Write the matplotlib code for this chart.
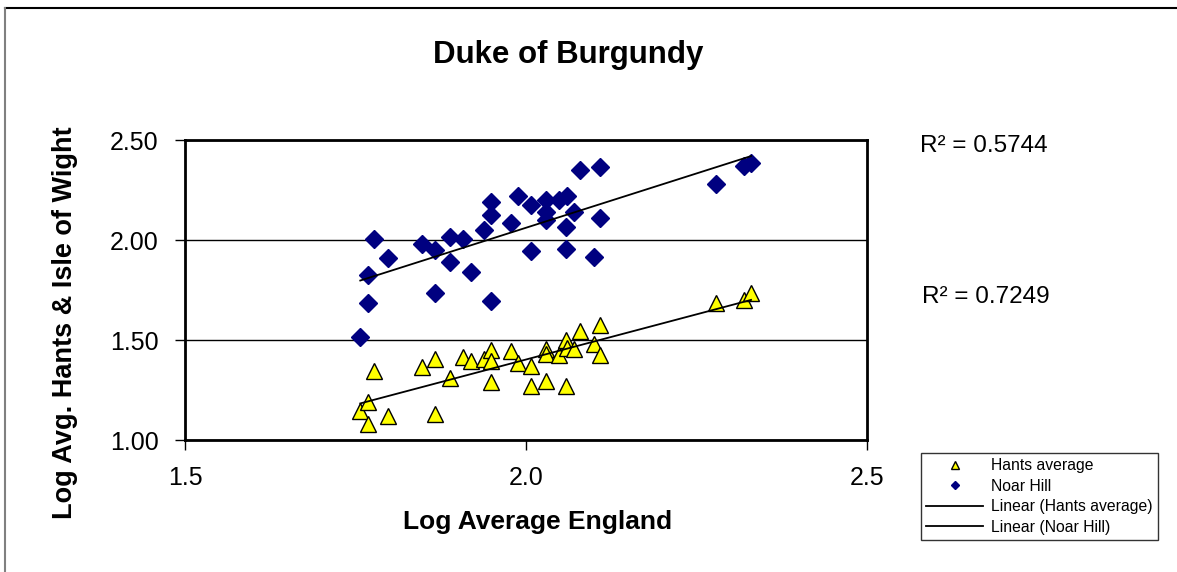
# Duke of Burgundy: log regional counts against log England average
import numpy as np
import matplotlib
matplotlib.use('Agg')
import matplotlib.pyplot as plt
from matplotlib.lines import Line2D

plt.rcParams['font.family'] = ['Liberation Sans', 'DejaVu Sans']

# Noar Hill series (x = log average England, y = log count)
noar_x = [1.757, 1.768, 1.768, 1.777, 1.797, 1.848, 1.867, 1.867, 1.888, 1.888,
          1.908, 1.919, 1.938, 1.948, 1.948, 1.948, 1.978, 1.988, 2.008, 2.008,
          2.029, 2.029, 2.029, 2.049, 2.060, 2.058, 2.058, 2.070, 2.079, 2.099,
          2.109, 2.109, 2.279, 2.319, 2.330]
noar_y = [1.517, 1.683, 1.825, 2.005, 1.908, 1.978, 1.950, 1.733, 2.017, 1.892,
          2.005, 1.838, 2.050, 2.188, 2.125, 1.697, 2.087, 2.220, 2.175, 1.945,
          2.200, 2.142, 2.100, 2.200, 2.220, 2.067, 1.953, 2.138, 2.350, 1.913,
          2.363, 2.108, 2.278, 2.372, 2.383]

# Hants average series
hants_x = [1.757, 1.768, 1.768, 1.777, 1.797, 1.848, 1.867, 1.867, 1.888, 1.908,
           1.919, 1.938, 1.948, 1.948, 1.948, 1.978, 1.988, 2.008, 2.008, 2.029,
           2.029, 2.029, 2.049, 2.058, 2.060, 2.058, 2.070, 2.079, 2.099, 2.109,
           2.109, 2.279, 2.319, 2.330]
hants_y = [1.147, 1.192, 1.080, 1.347, 1.120, 1.363, 1.405, 1.130, 1.308, 1.413,
           1.397, 1.403, 1.450, 1.397, 1.292, 1.445, 1.387, 1.372, 1.272, 1.453,
           1.430, 1.297, 1.425, 1.500, 1.458, 1.272, 1.453, 1.547, 1.480, 1.575,
           1.425, 1.683, 1.700, 1.733]

r2_noar = 'R² = 0.5744'
r2_hants = 'R² = 0.7249'

fig = plt.figure(figsize=(11.77, 5.72), dpi=100)
ax = fig.add_axes([185 / 1177, 1 - 440 / 572, 682 / 1177, 300 / 572])

# partial outer frame (top and left edges only show)
fig.add_artist(Line2D([5 / 1177, 1], [1 - 8 / 572, 1 - 8 / 572], color='black', lw=1.5))
fig.add_artist(Line2D([5 / 1177, 5 / 1177], [0, 1 - 8 / 572], color='#808080', lw=1.5))

ax.plot(hants_x, hants_y, linestyle='none', marker='^', ms=11,
        mfc='#ffff00', mec='black', mew=1.0, label='Hants average', zorder=3)
ax.plot(noar_x, noar_y, linestyle='none', marker='D', ms=9,
        mfc='#000080', mec='#000080', label='Noar Hill', zorder=3)

# linear trend lines, spanning the data range
for xs, ys, lab in [(hants_x, hants_y, 'Linear (Hants average)'),
                    (noar_x, noar_y, 'Linear (Noar Hill)')]:
    k, b = np.polyfit(xs, ys, 1)
    xx = np.array([min(xs), max(xs)])
    ax.plot(xx, k * xx + b, color='black', lw=1.3, label=lab, zorder=4)

ax.set_xlim(1.5, 2.5)
ax.set_ylim(1.0, 2.5)
ax.set_xticks([1.5, 2.0, 2.5])
ax.set_xticklabels(['1.5', '2.0', '2.5'])
ax.set_yticks([1.0, 1.5, 2.0, 2.5])
ax.set_yticklabels(['1.00', '1.50', '2.00', '2.50'])
ax.tick_params(direction='out', length=7, width=1, labelsize=18, pad=12)
ax.yaxis.grid(True, color='black', lw=1)
ax.set_axisbelow(True)
for s in ax.spines.values():
    s.set_linewidth(2)

ax.set_xlabel('Log Average England', fontsize=19, fontweight='bold',
              labelpad=14, x=0.517)
ax.set_ylabel('Log Avg. Hants & Isle of Wight', fontsize=19.5, fontweight='bold',
              labelpad=23, y=0.39)
fig.text(568 / 1177, 1 - 55 / 572, 'Duke of Burgundy', fontsize=22.5,
         fontweight='bold', ha='center', va='center')

fig.text(920 / 1177, 1 - 146 / 572, r2_noar, fontsize=17.5, va='center')
fig.text(922 / 1177, 1 - 297 / 572, r2_hants, fontsize=17.5, va='center')

leg = ax.legend(loc='upper left', bbox_to_anchor=(921 / 1177, 1 - 453 / 572),
                bbox_transform=fig.transFigure, fontsize=11.3, markerscale=0.5,
                frameon=True, fancybox=False, edgecolor='black', handlelength=3.6,
                handletextpad=0.5, labelspacing=0.35, borderpad=0.35,
                borderaxespad=0)
leg.get_frame().set_linewidth(1)

fig.savefig('out.png', dpi=100)
